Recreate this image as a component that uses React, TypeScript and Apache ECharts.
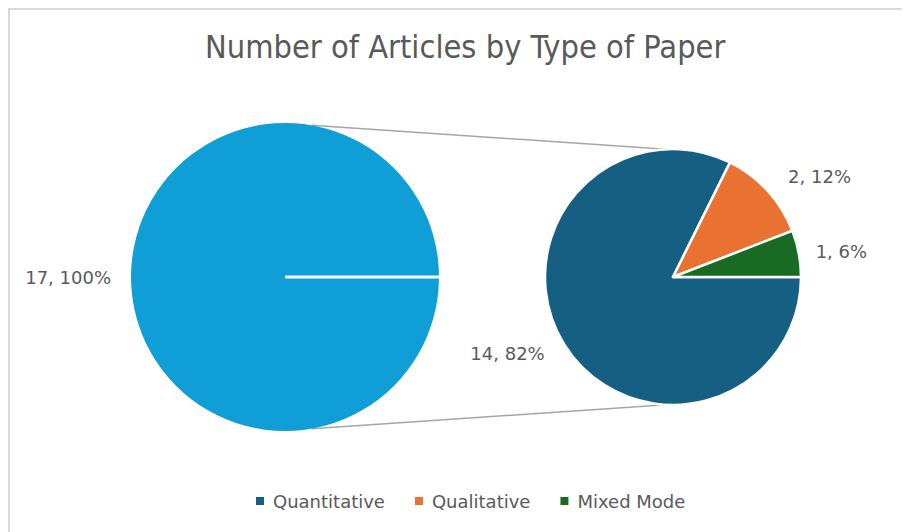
import React, { useEffect, useRef } from "react";
import * as echarts from "echarts";

const title = "Number of Articles by Type of Paper";
const mainCategories = ["Articles"];
const mainValues = [17];
const detailCategories = ["Quantitative", "Qualitative", "Mixed Mode"];
const detailValues = [14, 2, 1];
const mainColors = ["#0F9ED5"];
const detailColors = ["#156082", "#E97132", "#196B24"];
const detailLabelLen = [17, 21, 11];
const detailLabelLen2 = [0, 0, 1];

const W = 900;
const H = 522;
const leftC = [275, 267];
const leftR = 154;
const rightC = [663, 267];
const rightR = 128;

export default function App() {
  const ref = useRef<HTMLDivElement>(null);
  useEffect(() => {
    document.documentElement.style.overflow = "hidden";
    document.body.style.overflow = "hidden";
    if (!ref.current) return;
    const chart = echarts.init(ref.current, null, { renderer: "svg" });
    const total = mainValues.reduce((a, b) => a + b, 0);
    const fmt = (p: any) => `${p.value}, ${Math.round((p.value / total) * 100)}%`;
    const deg = Math.PI / 180;
    const topL = [leftC[0] + leftR * Math.cos(80 * deg), leftC[1] - leftR * Math.sin(80 * deg)];
    const botL = [leftC[0] + leftR * Math.cos(80 * deg), leftC[1] + leftR * Math.sin(80 * deg)];
    const topR = [rightC[0] + rightR * Math.cos(93 * deg), rightC[1] - rightR * Math.sin(93 * deg)];
    const botR = [rightC[0] + rightR * Math.cos(93 * deg), rightC[1] + rightR * Math.sin(93 * deg)];
    const labelStyle = {
      show: true,
      position: "outside",
      formatter: fmt,
      color: "#595959",
      fontSize: 18,
      fontFamily: "DejaVu Sans, sans-serif",
    };
    chart.setOption({
      animation: false,
      backgroundColor: "#ffffff",
      title: {
        text: title,
        left: 190,
        top: 16,
        textStyle: {
          color: "#595959",
          fontSize: 32.3,
          fontWeight: "normal",
          fontFamily: "Liberation Sans Narrow, DejaVu Sans Condensed, Roboto, sans-serif",
        },
      },
      legend: {
        bottom: 17,
        left: 239,
        itemWidth: 10,
        itemHeight: 10,
        itemGap: 28,
        icon: "rect",
        data: detailCategories,
        textStyle: { color: "#595959", fontSize: 18, fontFamily: "DejaVu Sans, sans-serif", padding: [0, 0, 0, 3] },
      },
      series: [
        {
          type: "pie",
          center: leftC,
          radius: [0, leftR],
          startAngle: 0,
          clockwise: true,
          data: mainCategories.map((n, i) => ({ name: n, value: mainValues[i], itemStyle: { color: mainColors[i] } })),
          label: labelStyle,
          labelLine: { show: false, length: 10, length2: 5 },
          itemStyle: { borderWidth: 0 },
          emphasis: { disabled: true },
          silent: true,
        },
        {
          type: "pie",
          center: rightC,
          radius: [0, rightR],
          startAngle: 0,
          clockwise: true,
          data: detailCategories.map((n, i) => ({
            name: n,
            value: detailValues[i],
            itemStyle: { color: detailColors[i] },
            labelLine: { show: false, length: detailLabelLen[i], length2: detailLabelLen2[i] },
          })),
          label: labelStyle,
          labelLine: { show: false, length: 11, length2: 5 },
          itemStyle: { borderColor: "#ffffff", borderWidth: 2.5 },
          emphasis: { disabled: true },
          silent: true,
        },
      ],
      graphic: [
        {
          type: "line",
          shape: { x1: leftC[0], y1: leftC[1], x2: leftC[0] + leftR, y2: leftC[1] },
          style: { stroke: "#ffffff", lineWidth: 3 },
          z: 10,
        },
        {
          type: "line",
          shape: { x1: topL[0], y1: topL[1], x2: topR[0], y2: topR[1] },
          style: { stroke: "#a6a6a6", lineWidth: 1.5 },
        },
        {
          type: "line",
          shape: { x1: botL[0], y1: botL[1], x2: botR[0], y2: botR[1] },
          style: { stroke: "#a6a6a6", lineWidth: 1.5 },
        },
      ],
    });
    return () => chart.dispose();
  }, []);
  return (
    <div style={{ borderTop: "2px solid #d9d9d9", borderLeft: "2px solid #d9d9d9", width: W, height: H }}>
      <div ref={ref} style={{ width: W, height: H }} />
    </div>
  );
}
